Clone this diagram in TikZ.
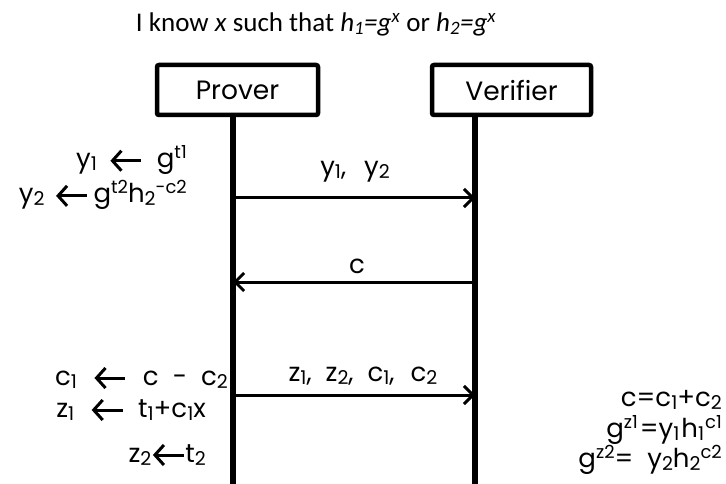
\documentclass[tikz,border=0pt]{standalone}
\usepackage{fontspec}
\setmainfont{Poppins}
\newfontfamily\titlefont{Carlito}
\usetikzlibrary{arrows.meta}
\newcommand{\supx}[1]{\raisebox{9.5pt}{\fontsize{18}{18}\selectfont #1}}
\newcommand{\subx}[1]{\raisebox{-3pt}{\fontsize{19}{19}\selectfont #1}}
\newcommand{\larr}{\tikz[baseline={(0pt,-7pt)}]{\coordinate (la) at (0pt,0pt); \coordinate (lb) at (31pt,0pt); \draw[line width=3pt, {Straight Barb[length=9pt,width=20pt,line width=3pt]}-] (la) -- (lb);}}
\tikzset{
  actor/.style={draw, line width=4.5pt, rounded corners=2pt, minimum height=50pt, font=\fontsize{26.5}{26.5}\selectfont, inner sep=0pt},
  life/.style={line width=5.5pt},
  msg/.style={line width=3pt, -{Straight Barb[length=9pt,width=18pt,line width=3pt]}},
  lbl/.style={font=\fontsize{26}{26}\selectfont, inner sep=0pt},
}
\begin{document}
\begin{tikzpicture}[x=1pt,y=-1pt]
\useasboundingbox (0,0) rectangle (726,484);
\node[font=\titlefont\fontsize{27}{27}\selectfont, inner sep=0pt] (title) at (316,24) {I know \textit{x} such that \textit{h\textsubscript{1}=g\textsuperscript{x}} or \textit{h\textsubscript{2}=g\textsuperscript{x}}};
\node[actor, minimum width=161pt] (P) at (237.5,90) {Prover};
\node[actor, minimum width=159pt] (V) at (511.5,90) {Verifier};
\coordinate (Pt) at (233,117);
\coordinate (Pb) at (233,484);
\coordinate (Vt) at (475,117);
\coordinate (Vb) at (475,484);
\draw[life] (Pt) -- (Pb);
\draw[life] (Vt) -- (Vb);
\coordinate (a1s) at (233,198);
\coordinate (a1e) at (475,198);
\coordinate (a2s) at (475,282);
\coordinate (a2e) at (233,282);
\coordinate (a3s) at (233,395);
\coordinate (a3e) at (475,395);
\draw[msg] (a1s) -- (a1e);
\draw[msg] (a2s) -- (a2e);
\draw[msg] (a3s) -- (a3e);
\node[lbl] (m1) at (355,172) {y\subx{1},\hspace{18pt}y\subx{2}};
\node[lbl] (m2) at (357,266) {c};
\node[lbl] (m3) at (363,376) {z\subx{1},\hspace{14pt}z\subx{2},\hspace{14pt}c\subx{1},\hspace{16pt}c\subx{2}};
\node[lbl, anchor=east] (l1) at (187,160) {y\subx{1}\hspace{12pt}\larr\hspace{14pt}g\supx{t1}};
\node[lbl, anchor=east] (l2) at (187,195) {y\subx{2}\hspace{10pt}\larr\hspace{5pt}g\supx{t2}h\subx{2}\supx{-c2}};
\node[lbl, anchor=east] (l3) at (228,378) {c\subx{1}\hspace{16pt}\larr\hspace{16pt}c\hspace{14pt}-\hspace{14pt}c\subx{2}};
\node[lbl, anchor=east] (l4) at (206,410) {z\subx{1}\hspace{16pt}\larr\hspace{14pt}t\subx{1}+c\subx{1}x};
\node[lbl, anchor=east] (l5) at (206,455) {z\subx{2}\larr t\subx{2}};
\node[lbl, anchor=east] (r1) at (722,400) {c=c\subx{1}+c\subx{2}};
\node[lbl, anchor=east] (r2) at (722,430) {g\supx{z1}\hspace{2pt}=y\subx{1}\hspace{2pt}h\subx{1}\hspace{1pt}\supx{c1}};
\node[lbl, anchor=east] (r3) at (722,460) {g\supx{z2}=\hspace{14pt}y\subx{2}h\subx{2}\supx{c2}};
\end{tikzpicture}
\end{document}
